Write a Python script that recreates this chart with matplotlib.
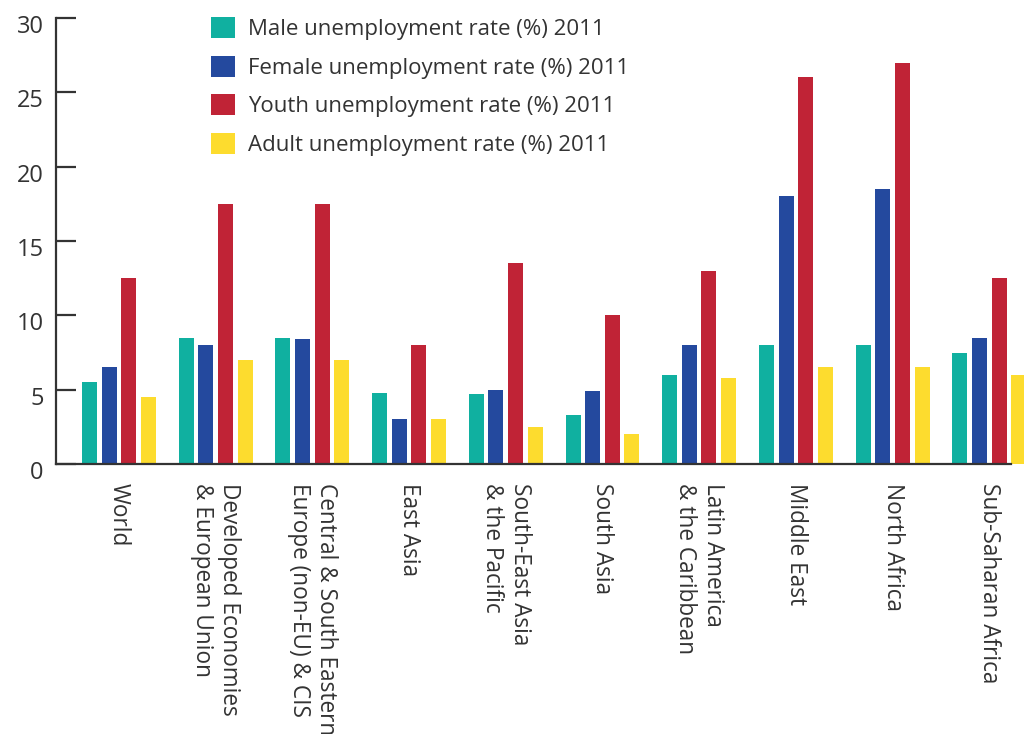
import matplotlib
matplotlib.use("Agg")
import matplotlib.pyplot as plt
import matplotlib.transforms as mtransforms
import numpy as np

plt.rcParams['font.family'] = ['Open Sans', 'DejaVu Sans']

regions = ["World", "Developed Economies\n& European Union",
           "Central & South Eastern\nEurope (non-EU) & CIS", "East Asia",
           "South-East Asia\n& the Pacific", "South Asia",
           "Latin America\n& the Caribbean", "Middle East", "North Africa",
           "Sub-Saharan Africa"]
series_names = ["Male unemployment rate (%) 2011",
                "Female unemployment rate (%) 2011",
                "Youth unemployment rate (%) 2011",
                "Adult unemployment rate (%) 2011"]
male = [5.5, 8.5, 8.5, 4.8, 4.7, 3.3, 6.0, 8.0, 8.0, 7.5]
female = [6.5, 8.0, 8.4, 3.0, 5.0, 4.9, 8.0, 18.0, 18.5, 8.5]
youth = [12.5, 17.5, 17.5, 8.0, 13.5, 10.0, 13.0, 26.0, 27.0, 12.5]
adult = [4.5, 7.0, 7.0, 3.0, 2.5, 2.0, 5.8, 6.5, 6.5, 6.0]
colors = ["#10B0A0", "#24499E", "#C02336", "#FDDC2E"]
yticks = [0, 5, 10, 15, 20, 25, 30]

TXT = "#333333"
W, H = 1024, 734
fig = plt.figure(figsize=(W / 100, H / 100), dpi=100)
ax = fig.add_axes([56 / W, (H - 464) / H, 1 - 56 / W, 446 / H])

x = np.arange(len(regions))
step = 0.203
bw = 0.155
for k, (vals, name, c) in enumerate(zip([male, female, youth, adult], series_names, colors)):
    ax.bar(x + (k - 1.5) * step, vals, width=bw, color=c, label=name, zorder=2)

ax.set_ylim(0, 30)
ax.set_xlim(-0.651, 9.359)
ax.set_yticks(yticks)
ax.set_yticklabels([str(v) for v in yticks])
ax.tick_params(axis='y', direction='in', length=14.4, width=1.6, color=TXT,
               labelsize=17, labelcolor=TXT, pad=9)
ax.set_xticks(x)
ax.set_xticklabels(regions, rotation=-90, ha='center', va='top',
                   multialignment='left', fontsize=16.3, color=TXT)
ax.tick_params(axis='x', length=0, pad=14)
for s in ['top', 'right']:
    ax.spines[s].set_visible(False)
for s in ['left', 'bottom']:
    ax.spines[s].set_color(TXT)
    ax.spines[s].set_linewidth(1.6)
ax.spines['bottom'].set_bounds(-0.651, 9.224)
ax.spines['bottom'].set_zorder(3)

off = mtransforms.ScaledTranslation(0, -6 / 100, fig.dpi_scale_trans)
for lab in ax.get_yticklabels():
    lab.set_transform(lab.get_transform() + off)

leg = ax.legend(loc='upper left', bbox_to_anchor=(211 / W, 1 - 17 / H),
                bbox_transform=fig.transFigure, frameon=False, fontsize=16,
                handlelength=1.08, handleheight=1.08, handletextpad=0.6,
                labelspacing=0.7, borderpad=0, borderaxespad=0)
for t in leg.get_texts():
    t.set_color(TXT)

fig.savefig("out.png", dpi=100)
